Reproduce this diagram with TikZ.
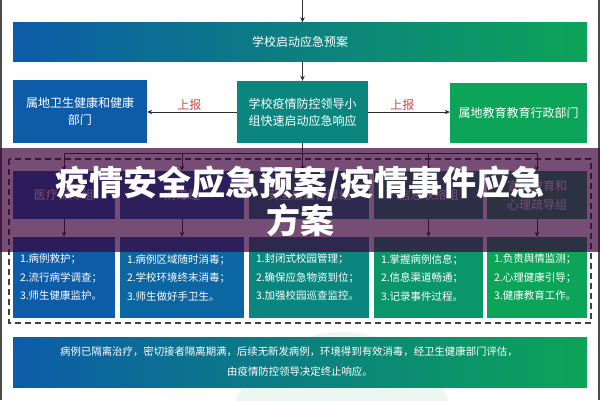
\documentclass[tikz,border=0pt]{standalone}
\usepackage{fontspec}
\setmainfont{Noto Sans CJK SC}
\usetikzlibrary{arrows.meta}
\definecolor{cblue}{RGB}{12,92,168}
\definecolor{cteal}{RGB}{10,134,126}
\definecolor{cgreen}{RGB}{12,164,88}
\definecolor{cb2}{RGB}{12,102,162}
\definecolor{cg4}{RGB}{10,150,104}
\definecolor{lblred}{RGB}{210,70,70}
\definecolor{linec}{RGB}{45,45,45}
\definecolor{bandc}{RGB}{60,2,59}
\definecolor{mint}{RGB}{236,247,241}
\tikzset{
  boxbase/.style={draw=none, inner sep=0pt, text=white, align=center},
  topbox/.style={boxbase, font=\fontsize{12}{17}\selectfont},
  grpbox/.style={boxbase, minimum height=48pt, font=\fontsize{12}{19}\selectfont},
  detbox/.style={boxbase, minimum height=81pt, align=left, inner xsep=7pt,
     font=\fontsize{10.5}{18.5}\selectfont},
  conn/.style={draw=linec, line width=0.8pt},
  arr/.style={conn, -{Stealth[length=5pt,width=4.5pt]}},
  lbl/.style={text=lblred, font=\fontsize{12}{14}\selectfont, inner sep=1pt},
}
\begin{document}
\begin{tikzpicture}[x=1pt,y=-1pt]
\useasboundingbox (0,0) rectangle (600,400);
\fill[white] (0,0) rectangle (600,400);
% faint watermark circle
\fill[mint] (342,449) circle (117);
% page edges
\fill[black!70] (0,0) rectangle (1.8,400);
\fill[black!70] (598.2,0) rectangle (600,400);
% top bar
\node[topbox, minimum width=574pt, minimum height=39pt, left color=cblue, right color=cgreen] (plan) at (300,42) {学校启动应急预案};
\coordinate (topin) at (302.5,0);
\draw[arr] (topin) -- (plan.north -| topin);
% second row
\node[topbox, fill=cblue, minimum width=134pt, minimum height=63pt] (health) at (80,111.5) {属地卫生健康和健康\\部门};
\node[topbox, fill=cteal, minimum width=131pt, minimum height=62pt] (lead) at (302.5,112) {学校疫情防控领导小\\组快速启动应急响应};
\node[topbox, fill=cgreen, minimum width=137pt, minimum height=60pt] (edu) at (518.5,113) {属地教育教育行政部门};
\draw[arr] (plan.south -| lead) -- (lead.north);
\draw[arr] (lead.west) -- (health.east |- lead.west) node[lbl, pos=0.53, above] {上报};
\draw[arr] (lead.east) -- (edu.west |- lead.east) node[lbl, pos=0.42, above] {上报};
% dashed frame
\draw[draw=black!75, line width=1.3pt, dash pattern=on 6pt off 4pt] (9,159) rectangle (591,323);
% groups
\node[grpbox, fill=cblue, minimum width=102pt] (g1) at (64,195) {医疗保障组};
\node[grpbox, fill=cb2, minimum width=124pt] (g2) at (182,195) {消毒组};
\node[grpbox, fill=cteal, minimum width=120pt] (g3) at (309,195) {安全后勤保障组};
\node[grpbox, fill=cg4, minimum width=109pt] (g4) at (428.5,195) {信息联络组};
\node[grpbox, fill=cgreen, minimum width=100pt] (g5) at (537,195) {宣传教育和\\心理疏导组};
\coordinate (bus) at (302.5,153);
\draw[conn] (lead.south) -- (bus);
\draw[conn] (g1.north |- bus) -- (g5.north |- bus);
\draw[arr] (g1.north |- bus) -- (g1.north);
\draw[arr] (g2.north |- bus) -- (g2.north);
\draw[arr] (bus) -- (bus |- g3.north);
\draw[arr] (g4.north |- bus) -- (g4.north);
\draw[arr] (g5.north |- bus) -- (g5.north);
% details
\node[detbox, fill=cblue, text width=88pt] (d1) at (64,277.5) {1.病例救护；\\2.流行病学调查；\\3.师生健康监护。};
\node[detbox, fill=cb2, text width=110pt] (d2) at (182,277.5) {1.病例区域随时消毒；\\2.学校环境终末消毒；\\3.师生做好手卫生。};
\node[detbox, fill=cteal, text width=106pt] (d3) at (309,277.5) {1.封闭式校园管理；\\2.确保应急物资到位；\\3.加强校园巡查监控。};
\node[detbox, fill=cg4, text width=95pt] (d4) at (428.5,277.5) {1.掌握病例信息；\\2.信息渠道畅通；\\3.记录事件过程。};
\node[detbox, fill=cgreen, text width=86pt] (d5) at (537,277.5) {1.负责舆情监测；\\2.心理健康引导；\\3.健康教育工作。};
\foreach \i in {1,...,5}{\draw[arr] (g\i.south) -- (d\i.north);}
% bottom box
\node[boxbase, minimum width=574pt, minimum height=50pt, left color=cblue, right color=cgreen,
  font=\fontsize{10.4}{20}\selectfont] (endbox) at (300,362)
  {病例已隔离治疗，密切接者隔离期满，后续无新发病例，环境得到有效消毒，经卫生健康部门评估，\hspace*{22pt}\\由疫情防控领导决定终止响应。};
% overlay band and title
\fill[bandc, fill opacity=0.7] (0,148) rectangle (600,252);
\node[text=white, align=center, font=\fontsize{34}{38}\selectfont\bfseries, inner sep=0pt] (title) at (300,201)
  {疫情安全应急预案/疫情事件应急\\方案};
\end{tikzpicture}
\end{document}
